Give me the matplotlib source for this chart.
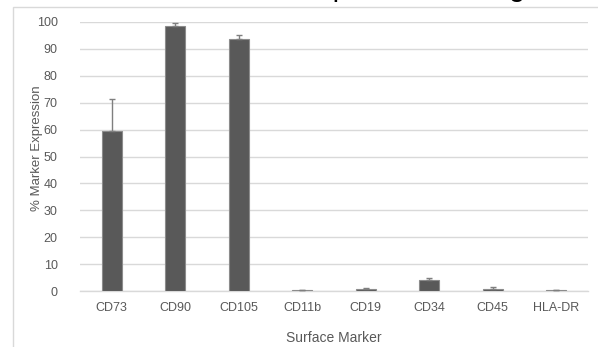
import numpy as np
import matplotlib
matplotlib.use('Agg')
import matplotlib.pyplot as plt
from matplotlib.patches import Rectangle

plt.rcParams['font.family'] = ['Liberation Sans', 'DejaVu Sans']

# data
markers = ['CD73', 'CD90', 'CD105', 'CD11b', 'CD19', 'CD34', 'CD45', 'HLA-DR']
expression = [59.6, 98.6, 93.8, 0.3, 0.9, 4.0, 0.7, 0.3]
expression_err = [11.7, 1.0, 1.2, 0.1, 0.3, 1.0, 0.7, 0.1]
y_ticks = list(range(0, 101, 10))

TXT = '#595959'
GRID = '#d9d9d9'

W, H = 598, 347
fig = plt.figure(figsize=(W / 100, H / 100), dpi=100)

# chart area border (cropped at right/bottom in the reference)
fig.patches.append(Rectangle((13 / W, -0.1), 1.2, 1.1 - 7 / H,
                             transform=fig.transFigure, fill=False,
                             edgecolor=GRID, linewidth=1.0))

# title, mostly cut off above the image (only descenders show)
fig.text(91 / W, 1.0 + 4 / H, 'Surface Marker Expression Using Flow Cytometry',
         fontsize=21, color='black', ha='left', va='baseline')

ax = fig.add_axes([80 / W, (H - 291) / H, 508 / W, 269 / H])
x = np.arange(len(markers))
ax.bar(x, expression, width=0.31, color='#595959', edgecolor='#8c8c8c',
       linewidth=0.8, zorder=3,
       yerr=[np.zeros(len(markers)), expression_err],
       error_kw=dict(ecolor='#7f7f7f', elinewidth=1.0, capsize=2.5, capthick=1.0))

ax.set_xlim(-0.5, len(markers) - 0.5)
ax.set_ylim(0, 100)
ax.set_yticks(y_ticks)
ax.set_xticks(x)
ax.set_xticklabels(markers)
ax.tick_params(axis='both', length=0, labelsize=9, colors=TXT)
ax.tick_params(axis='y', pad=16)
ax.tick_params(axis='x', pad=8)
ax.yaxis.grid(True, color=GRID, linewidth=1.0, zorder=0)
ax.set_axisbelow(True)
for side in ['left', 'right', 'top']:
    ax.spines[side].set_visible(False)
ax.spines['bottom'].set_color(GRID)
ax.spines['bottom'].set_linewidth(1.0)

ax.set_ylabel('% Marker Expression', fontsize=9.5, color=TXT)
ax.yaxis.set_label_coords((43 - 80) / 508, (291 - 148) / 269)
ax.set_xlabel('Surface Marker', fontsize=10, color=TXT, labelpad=12)

fig.savefig('out.png', dpi=100)
